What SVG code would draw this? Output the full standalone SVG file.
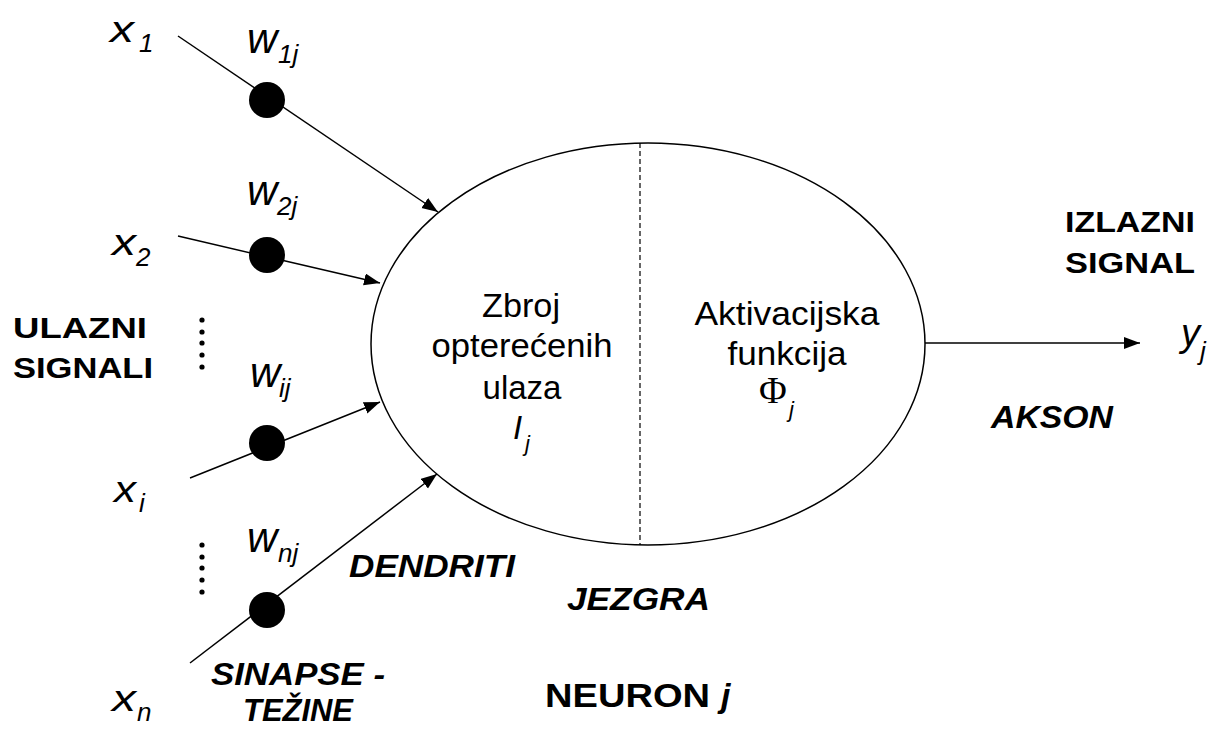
<svg xmlns="http://www.w3.org/2000/svg" width="1216" height="729" viewBox="0 0 1216 729">
<style>
.bg{fill:#fff}
.ln{stroke:#000;stroke-width:1.5;fill:none}
.dot{fill:#000}
.sm{fill:#000}
.v{font-family:"Liberation Sans",Arial,sans-serif;font-style:italic;font-size:36px;fill:#000}
.w{font-family:"Liberation Sans",Arial,sans-serif;font-style:italic;font-size:42px;fill:#000}
.s{font-family:"Liberation Sans",Arial,sans-serif;font-style:italic;font-size:26px;fill:#000}
.b{font-family:"Liberation Sans",Arial,sans-serif;font-weight:bold;font-size:29px;fill:#000}
.bi{font-family:"Liberation Sans",Arial,sans-serif;font-weight:bold;font-style:italic;font-size:31px;fill:#000}
.t{font-family:"Liberation Sans",Arial,sans-serif;font-size:33px;fill:#000;text-anchor:middle}
.phi{font-family:"Liberation Serif","Times New Roman",serif;font-size:38px;fill:#000}
</style>
<defs>
<marker id="ah" markerUnits="userSpaceOnUse" markerWidth="18" markerHeight="14" refX="16" refY="6" orient="auto">
<path d="M0,0 L16,6 L0,12 z" fill="#000"/>
</marker>
</defs>
<rect class="bg" x="0" y="0" width="1216" height="729"/>

<g id="connectors">
<line class="ln" x1="178" y1="36" x2="438" y2="212" marker-end="url(#ah)"/>
<line class="ln" x1="178" y1="236" x2="380" y2="283" marker-end="url(#ah)"/>
<line class="ln" x1="190" y1="478" x2="380" y2="402" marker-end="url(#ah)"/>
<line class="ln" x1="190" y1="663" x2="437" y2="474" marker-end="url(#ah)"/>
<line class="ln" x1="925" y1="343" x2="1140" y2="343" marker-end="url(#ah)"/>
</g>

<g id="neuron">
<ellipse class="ln" cx="648" cy="344" rx="277" ry="201"/>
<line x1="640" y1="143" x2="640" y2="545" stroke="#000" stroke-width="1.2" stroke-dasharray="5,3"/>
<text class="t" x="521" y="317" textLength="78" lengthAdjust="spacingAndGlyphs">Zbroj</text>
<text class="t" x="522" y="357" textLength="181" lengthAdjust="spacingAndGlyphs">opterećenih</text>
<text class="t" x="522" y="399" textLength="79" lengthAdjust="spacingAndGlyphs">ulaza</text>
<text class="v" x="513" y="439" style="font-size:33px">I</text>
<text class="s" x="525" y="451" style="font-size:22px">j</text>
<text class="t" x="787" y="325" textLength="185" lengthAdjust="spacingAndGlyphs">Aktivacijska</text>
<text class="t" x="787" y="365" textLength="119" lengthAdjust="spacingAndGlyphs">funkcija</text>
<text class="phi" x="759" y="403">Φ</text>
<text class="s" x="789" y="417" style="font-size:22px">j</text>
</g>

<g id="input1">
<circle class="dot" cx="267" cy="100" r="18"/>
<text class="v" x="110" y="42" textLength="24" lengthAdjust="spacingAndGlyphs">x</text>
<text class="s" x="139" y="52">1</text>
<text class="w" x="247" y="53">w</text>
<text class="s" x="278" y="63">1j</text>
</g>

<g id="input2">
<circle class="dot" cx="267" cy="255" r="18"/>
<text class="v" x="112" y="255" textLength="24" lengthAdjust="spacingAndGlyphs">x</text>
<text class="s" x="136" y="266">2</text>
<text class="w" x="247" y="205">w</text>
<text class="s" x="277" y="215">2j</text>
</g>

<g id="inputi">
<circle class="dot" cx="267" cy="443" r="18"/>
<text class="v" x="114" y="502" textLength="22" lengthAdjust="spacingAndGlyphs">x</text>
<text class="s" x="139" y="512">i</text>
<text class="w" x="250" y="387">w</text>
<text class="s" x="279" y="397">ij</text>
</g>

<g id="inputn">
<circle class="dot" cx="267" cy="610" r="18"/>
<text class="v" x="112" y="711" textLength="24" lengthAdjust="spacingAndGlyphs">x</text>
<text class="s" x="137" y="721">n</text>
<text class="w" x="247" y="552">w</text>
<text class="s" x="278" y="562">nj</text>
</g>

<g id="ellipsis1">
<circle class="sm" cx="202" cy="320" r="2.6"/>
<circle class="sm" cx="202" cy="332" r="2.6"/>
<circle class="sm" cx="202" cy="343" r="2.6"/>
<circle class="sm" cx="202" cy="355" r="2.6"/>
<circle class="sm" cx="202" cy="367" r="2.6"/>
</g>
<g id="ellipsis2">
<circle class="sm" cx="202" cy="545" r="2.6"/>
<circle class="sm" cx="202" cy="557" r="2.6"/>
<circle class="sm" cx="202" cy="568" r="2.6"/>
<circle class="sm" cx="202" cy="580" r="2.6"/>
<circle class="sm" cx="202" cy="592" r="2.6"/>
</g>

<g id="labels">
<text class="b" x="13" y="338" textLength="134" lengthAdjust="spacingAndGlyphs">ULAZNI</text>
<text class="b" x="13" y="378" textLength="140" lengthAdjust="spacingAndGlyphs">SIGNALI</text>
<text class="b" x="1065" y="232" textLength="130" lengthAdjust="spacingAndGlyphs">IZLAZNI</text>
<text class="b" x="1065" y="273" textLength="130" lengthAdjust="spacingAndGlyphs">SIGNAL</text>
<text class="bi" x="991" y="428" textLength="122" lengthAdjust="spacingAndGlyphs">AKSON</text>
<text class="bi" x="349" y="577" textLength="166" lengthAdjust="spacingAndGlyphs">DENDRITI</text>
<text class="bi" x="567" y="610" textLength="143" lengthAdjust="spacingAndGlyphs">JEZGRA</text>
<text class="bi" x="211" y="685" textLength="174" lengthAdjust="spacingAndGlyphs">SINAPSE -</text>
<text class="bi" x="243" y="721" textLength="110" lengthAdjust="spacingAndGlyphs">TEŽINE</text>
<text class="b" x="545" y="707" style="font-size:34px" textLength="165" lengthAdjust="spacingAndGlyphs">NEURON</text>
<text class="bi" x="721" y="707" style="font-size:34px">j</text>
<text class="v" x="1181" y="346" style="font-size:38px">y</text>
<text class="s" x="1200" y="360">j</text>
</g>
</svg>
